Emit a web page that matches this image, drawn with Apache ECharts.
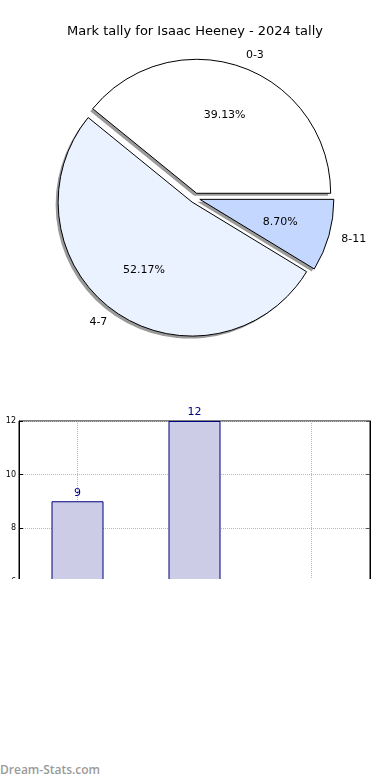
<!DOCTYPE html>
<html>
<head>
<meta charset="utf-8">
<script src="https://cdn.jsdelivr.net/npm/echarts@6/dist/echarts.min.js"></script>
<style>
html,body{margin:0;padding:0;background:#fff;width:390px;height:780px;overflow:hidden;}
#chart{position:absolute;left:0;top:0;width:390px;height:579px;}
#wm{position:absolute;left:0;top:762px;font-family:"Open Sans",sans-serif;font-weight:600;font-size:12px;color:#9a9a9a;line-height:16px;}
</style>
</head>
<body>
<div id="chart"></div>
<div id="wm">Dream-Stats.com</div>
<script>
const titleText = 'Mark tally for Isaac Heeney - 2024 tally';
const categories = ['0-3', '4-7', '8-11'];
const counts = [9, 12, 2];
const sliceColors = ['#ffffff', '#ebf2ff', '#c4d8ff'];
const yTicks = { min: 0, max: 12, interval: 2 };
const yName = 'Mark Tally';

const FONT = 'DejaVu Sans';
const C = [195, 198];
const R = 134;
const SH = 2.5;

const pieData = categories.map((c, i) => ({
  name: c, value: counts[i], selected: true,
  itemStyle: { color: sliceColors[i] }
}));
const plainData = categories.map((c, i) => ({ name: c, value: counts[i], selected: true }));

const pieCommon = {
  type: 'pie', startAngle: 0, clockwise: false,
  selectedMode: 'multiple', selectedOffset: 5, avoidLabelOverlap: false,
  silent: true, emphasis: { disabled: true }
};

const chart = echarts.init(document.getElementById('chart'), null, { renderer: 'canvas' });
chart.setOption({
  animation: false,
  backgroundColor: '#fff',
  title: {
    text: titleText, left: 'center', top: 20,
    textStyle: { fontFamily: FONT, fontSize: 13, fontWeight: 'normal', color: '#000' }
  },
  grid: { left: 19, top: 421, width: 351, height: 321, show: true, borderColor: '#000', borderWidth: 1, containLabel: false, outerBoundsMode: 'none' },
  xAxis: [{
    type: 'category', data: categories, position: 'bottom',
    axisLine: { lineStyle: { color: '#000' } },
    axisTick: { inside: true, alignWithLabel: true, length: 4, lineStyle: { color: '#000' } },
    axisLabel: { fontFamily: FONT, fontSize: 8, color: '#000' },
    splitLine: { show: true, alignWithLabel: true, lineStyle: { color: '#b8b8b8', type: 'dotted', width: 1 } }
  }, {
    type: 'category', data: categories, position: 'top',
    axisLine: { lineStyle: { color: '#000' } },
    axisTick: { inside: true, alignWithLabel: true, length: 4, lineStyle: { color: '#555' } },
    axisLabel: { show: false }, splitLine: { show: false }
  }],
  yAxis: [{
    type: 'value', min: yTicks.min, max: yTicks.max, interval: yTicks.interval,
    name: yName, nameLocation: 'middle', nameRotate: 90, nameGap: 21,
    nameTextStyle: { fontFamily: FONT, fontSize: 12, color: '#000' },
    axisLine: { show: true, lineStyle: { color: '#000' } },
    axisTick: { show: true, inside: true, length: 4, lineStyle: { color: '#000' } },
    axisLabel: { fontFamily: FONT, fontSize: 8, color: '#000', margin: 3 },
    splitLine: { show: true, lineStyle: { color: '#b8b8b8', type: 'dotted', width: 1 } }
  }, {
    type: 'value', min: yTicks.min, max: yTicks.max, interval: yTicks.interval, position: 'right',
    axisLine: { show: true, lineStyle: { color: '#000' } },
    axisTick: { show: true, inside: true, length: 4, lineStyle: { color: '#555' } },
    axisLabel: { show: false }, splitLine: { show: false }
  }],
  series: [Object.assign({}, pieCommon, {
    z: 1, center: [C[0] - SH, C[1] + SH], radius: R,
    itemStyle: { color: '#9a9a9a', borderWidth: 0 },
    label: { show: false }, labelLine: { show: false },
    data: plainData
  }), Object.assign({}, pieCommon, {
    z: 2, center: C, radius: R,
    itemStyle: { borderColor: '#000', borderWidth: 1 },
    label: { show: true, position: 'outside', formatter: '{b}', fontFamily: FONT, fontSize: 11, color: '#000', distanceToLabelLine: 0 },
    labelLine: { show: false, length: 13, length2: 0 },
    data: pieData
  }), Object.assign({}, pieCommon, {
    z: 3, center: C, radius: [R * 0.6 - 30, R * 0.6 + 30],
    itemStyle: { color: 'rgba(0,0,0,0)', borderWidth: 0 },
    label: { show: true, position: 'inside', formatter: p => p.percent.toFixed(2) + '%', fontFamily: FONT, fontSize: 11, color: '#000' },
    labelLine: { show: false },
    data: plainData
  }), {
    type: 'bar', xAxisIndex: 0, yAxisIndex: 0, barWidth: 52,
    data: counts, silent: true,
    itemStyle: { color: '#ccccE6', borderColor: '#000080', borderWidth: 1 },
    label: { show: true, position: 'top', distance: 3, color: '#000080', fontFamily: FONT, fontSize: 11 }
  }]
});
</script>
</body>
</html>
